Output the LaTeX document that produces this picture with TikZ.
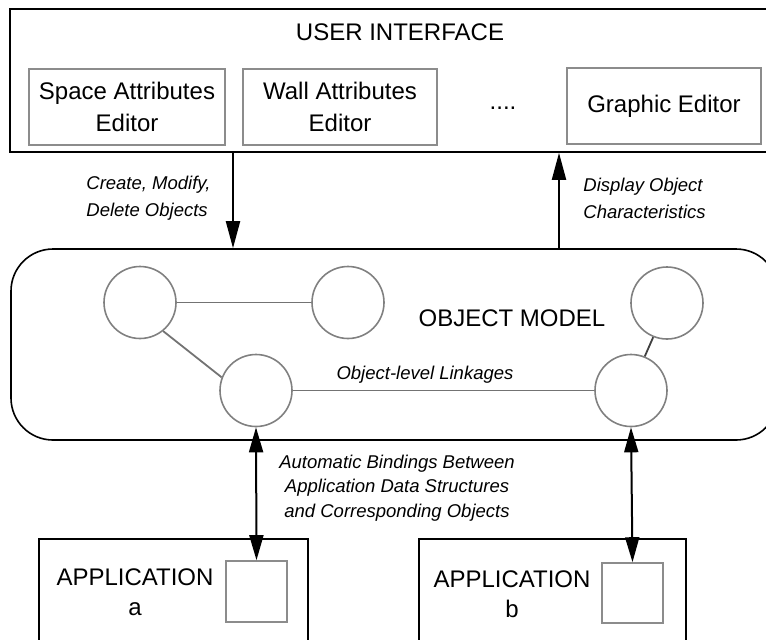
\documentclass[tikz,border=0pt]{standalone}
\usepackage{fontspec}
\setmainfont{Liberation Sans}
\usetikzlibrary{calc}
\usetikzlibrary{positioning}
\usetikzlibrary{arrows.meta}

\begin{document}
\begin{tikzpicture}[x=0.5pt, y=-0.5pt]
    \tikzstyle{panel}=[draw, line width=0.8pt, inner sep=0pt]
    \tikzstyle{editor}=[draw=black!45, line width=0.8pt, inner sep=0pt, minimum height=38pt, align=center, font=\fontsize{12}{16}\selectfont]
    \tikzstyle{object}=[draw=black!50, line width=0.8pt, circle, minimum size=36pt, inner sep=0pt]
    \tikzstyle{linkage}=[black!55, line width=0.9pt]
    \tikzstyle{flow}=[line width=1pt, -{Triangle[length=13.5pt, width=7pt]}]
    \tikzstyle{binding}=[line width=1pt, {Triangle[length=12.5pt, width=7pt]}-{Triangle[length=12.5pt, width=7pt]}]
    \tikzstyle{big}=[inner sep=0pt, align=center, font=\fontsize{12}{15}\selectfont]
    \tikzstyle{note}=[inner sep=0pt, font=\fontsize{9.25}{13.5}\selectfont\itshape]

    \useasboundingbox (0, 0) rectangle (766, 639);

    % User Interface
    \node[panel, minimum width=380pt, minimum height=71.5pt] (ui) at (390, 80.5) {};
    \node[big] (uititle) at (400, 32) {USER INTERFACE};
    \node[editor, minimum width=98pt] (space) at (127, 107) {Space Attributes\\Editor};
    \node[editor, minimum width=97pt] (wall) at (340, 107) {Wall Attributes\\Editor};
    \node[big] (dots) at (503, 108) {....};
    \node[editor, minimum width=97pt] (graphic) at (664, 106) {Graphic Editor};

    % Object Model
    \node[panel, rounded corners=21pt, minimum width=383.5pt, minimum height=95.5pt] (om) at (394.5, 344.5) {};
    \node[big] (omtitle) at (512, 318) {OBJECT MODEL};
    \node[object] (c1) at (140, 302.5) {};
    \node[object] (c2) at (348, 302.5) {};
    \node[object] (c3) at (256, 390.5) {};
    \node[object] (c4) at (667, 303) {};
    \node[object] (c5) at (631, 390.5) {};
    \draw[linkage] (c1) -- (c2);
    \draw[linkage] (c1.-51) -- (c3.159);
    \draw[linkage] (c3) -- (c5);
    \draw[linkage, black!75] (c4.-112) -- (c5.68);
    \node[note] (linkages) at (425, 375) {Object-level Linkages};

    % UI <-> Object Model
    \coordinate (cmd) at (233, 0);
    \coordinate (disp) at (559, 0);
    \draw[flow] (ui.south -| cmd) -- (om.north -| cmd);
    \draw[flow] (om.north -| disp) -- (ui.south -| disp);
    \node[note, anchor=west, align=left] (cmdlabel) at (86, 198.5) {Create, Modify,\\Delete Objects};
    \node[note, anchor=west, align=left] (displabel) at (583, 198.5) {Display Object\\Characteristics};

    % Applications
    \node[panel, minimum width=134.5pt, minimum height=60.5pt] (appa) at (173.5, 599.5) {};
    \node[panel, minimum width=133.5pt, minimum height=60.5pt] (appb) at (552.5, 599.5) {};
    \node[big] (appatext) at (135, 592) {APPLICATION\\a};
    \node[big] (appbtext) at (512, 594) {APPLICATION\\b};
    \node[editor, minimum width=30.5pt, minimum height=30.5pt] (da) at (256.5, 591.5) {};
    \node[editor, minimum width=30.5pt, minimum height=30pt] (db) at (632.5, 593) {};

    % Bindings
    \draw[binding] (c3.south) -- (da.north);
    \draw[binding] (c5.south) -- (db.north);
    \node[note, align=center, font=\fontsize{9.25}{12.25}\selectfont\itshape] (bindlabel) at (397, 488)
      {Automatic Bindings Between\\Application Data Structures\\and Corresponding Objects};
\end{tikzpicture}
\end{document}
